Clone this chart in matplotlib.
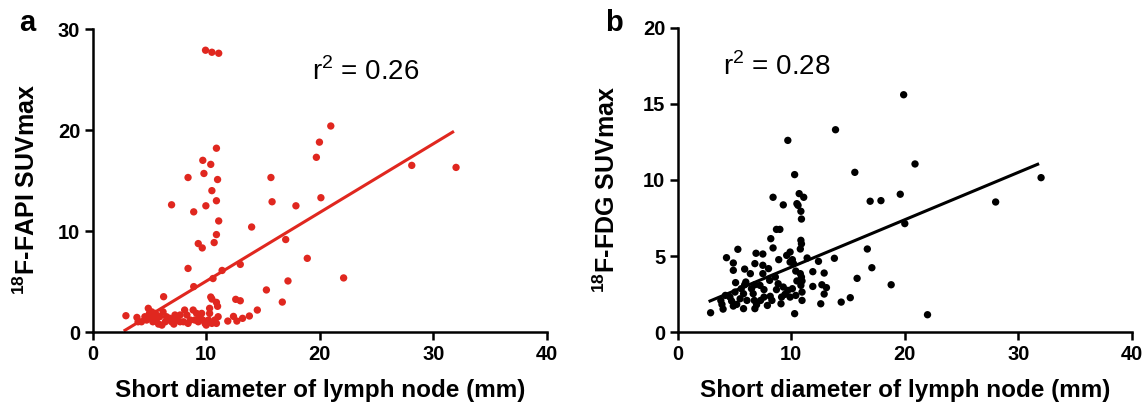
import matplotlib
matplotlib.use("Agg")
import matplotlib.pyplot as plt

plt.rcParams['font.family'] = ['Liberation Sans', 'DejaVu Sans']
plt.rcParams['mathtext.fontset'] = 'custom'
plt.rcParams['mathtext.rm'] = 'Liberation Sans'
plt.rcParams['mathtext.bf'] = 'Liberation Sans:bold'

# panel a: 18F-FAPI SUVmax vs short diameter
fapi_x = [9.94, 10.5, 11.1, 20.97, 19.97, 19.7, 10.9, 9.7, 10.4, 8.4, 9.8, 11.0, 15.7, 10.5,
          28.1, 32.0, 6.95, 9.97, 10.9, 8.9, 15.8, 17.9, 20.1, 11.1, 14.0, 10.9, 9.3, 9.65,
          10.7, 17.0, 18.9, 8.4, 13.0, 11.4, 22.1, 8.9, 10.6, 17.2, 15.3, 6.25, 10.4, 10.5,
          10.9, 11.0, 12.6, 13.0, 16.7, 10.3, 14.5, 13.8, 13.2, 12.4, 12.7, 11.9, 2.93,
          3.9, 4.0, 4.6, 4.9, 5.0, 5.2, 5.3, 5.6, 5.8, 5.9, 6.1, 6.4, 6.8, 6.95, 7.15, 7.4,
          7.7, 8.0, 8.1, 8.3, 8.6, 8.85, 9.15, 9.3, 9.45, 9.7, 9.9, 10.2, 10.3, 10.75, 11.05,
          10.9, 7.25, 6.5, 5.5, 4.75, 4.3, 7.7, 8.4, 9.0, 9.6, 10.0, 10.5, 6.2, 5.6, 5.2, 7.1]
fapi_y = [27.9, 27.7, 27.6, 20.4, 18.8, 17.3, 18.2, 17.0, 16.6, 15.3, 15.7, 15.1, 15.3, 14.0,
          16.5, 16.3, 12.6, 12.5, 13.0, 11.9, 12.9, 12.5, 13.3, 11.0, 10.4, 9.65, 8.76, 8.33,
          8.86, 9.16, 7.3, 6.3, 6.7, 6.1, 5.36, 4.5, 5.3, 5.06, 4.17, 3.5, 3.47, 3.27,
          2.94, 2.55, 3.24, 3.1, 2.97, 2.35, 2.18, 1.59, 1.36, 1.55, 1.09, 1.09, 1.62,
          1.45, 1.02, 1.52, 2.35, 1.85, 1.52, 1.02, 1.19, 0.79, 1.52, 0.69, 1.02, 1.36, 1.02, 0.79, 1.26,
          1.02, 1.02, 2.18, 1.69, 1.19, 2.18, 1.85, 1.02, 1.52, 1.19, 0.86, 1.19, 1.85, 1.19, 1.52,
          0.86, 1.69, 1.52, 1.85, 1.19, 1.02, 1.69, 0.86, 1.19, 1.85, 0.69, 0.86, 2.0, 1.69, 2.0, 1.19]

# panel b: 18F-FDG SUVmax vs short diameter
fdg_x = [19.9, 13.9, 9.7, 20.9, 15.6, 10.3, 32.0, 8.4, 10.7, 11.1, 9.3, 10.5, 10.6, 10.85, 10.9,
         16.95, 17.9, 19.6, 28.0, 20.0, 8.7, 9.0, 8.2, 10.85, 10.9, 10.8, 8.4, 5.3, 6.9, 7.5,
         9.9, 9.6, 10.1, 4.3, 4.9, 4.9, 6.8, 7.5, 8.9, 11.4, 12.4, 13.8, 16.7, 17.1, 5.9, 8.0,
         11.9, 12.9, 15.8, 18.8, 14.4, 15.2, 12.6, 22.0, 10.3, 2.9,
         3.8, 3.9, 4.0, 4.6, 4.75, 4.9, 5.2, 5.5, 5.8, 5.8, 6.1, 6.65, 6.75, 6.8, 6.95, 7.3,
         7.6, 7.9, 8.15, 8.3, 8.7, 9.1, 9.15, 9.45, 9.7, 10.1, 10.4, 10.95, 10.95, 9.9,
         5.1, 6.0, 5.9, 6.8, 7.25, 10.4, 10.8, 10.9, 10.95, 10.85, 10.5, 11.9, 12.7, 13.1, 12.9,
         9.9, 10.2, 8.6, 8.85, 9.3, 8.1, 7.5, 6.4, 5.05, 4.2, 5.6, 6.5, 7.6]
fdg_y = [15.6, 13.3, 12.6, 11.05, 10.5, 10.35, 10.15, 8.86, 9.1, 8.86, 8.36, 8.44, 8.33, 7.94, 7.43,
         8.6, 8.64, 9.06, 8.55, 7.13, 6.75, 6.75, 6.14, 6.03, 5.8, 5.46, 5.53, 5.44, 5.18, 5.13,
         5.26, 5.04, 4.76, 4.89, 4.54, 4.06, 4.5, 4.39, 4.76, 4.87, 4.65, 4.85, 5.46, 4.23, 4.14, 4.17,
         3.97, 3.88, 3.53, 3.11, 1.97, 2.26, 1.86, 1.14, 1.21, 1.27,
         2.08, 1.82, 1.51, 2.30, 2.04, 1.71, 1.82, 2.19, 2.52, 1.54, 2.08, 2.52, 2.08, 1.54, 1.80, 2.08,
         2.30, 1.75, 2.35, 2.08, 2.79, 1.86, 2.30, 2.48, 2.74, 2.85, 2.41, 2.63, 2.08, 2.30,
         3.25, 3.29, 3.11, 3.11, 3.07, 4.01, 3.84, 3.62, 3.36, 3.07, 3.36, 3.0, 3.11, 2.92, 2.5,
         4.6, 4.5, 3.62, 3.18, 2.96, 3.4, 3.84, 3.84, 2.63, 2.41, 2.85, 2.85, 2.79]

# linear fits (slope, intercept)
fit_a = (0.680, -1.76)
fit_b = (0.3115, 1.155)
fit_range = [2.85, 31.7]

red = '#e0271f'

fig = plt.figure(figsize=(11.48, 4.03), dpi=100)
ax1 = fig.add_axes([0.0807, 0.176, 0.3957, 0.752])
ax2 = fig.add_axes([0.5903, 0.176, 0.3957, 0.755])


def style(ax, ylim, yticks, ylabel, ylab_x):
    for s in ['top', 'right']:
        ax.spines[s].set_visible(False)
    for s in ['left', 'bottom']:
        ax.spines[s].set_linewidth(1.8)
    ax.set_xlim(0, 40)
    ax.set_ylim(*ylim)
    ax.set_xticks([0, 10, 20, 30, 40])
    ax.set_yticks(yticks)
    ax.tick_params(direction='out', length=6, width=1.8, labelsize=14.5, pad=3)
    for lab in ax.get_xticklabels() + ax.get_yticklabels():
        lab.set_fontweight('bold')
    ax.set_xlabel('Short diameter of lymph node (mm)', fontsize=17.5, fontweight='bold')
    ax.set_ylabel(ylabel, fontsize=18, fontweight='bold')
    ax.xaxis.set_label_coords(0.5, -0.155)
    ax.yaxis.set_label_coords(ylab_x, 0.47)


ax1.scatter(fapi_x, fapi_y, s=28, color=red, edgecolors='none', clip_on=False, zorder=3)
ax1.plot(fit_range, [fit_a[0] * v + fit_a[1] for v in fit_range], color=red, lw=2.2)
style(ax1, (0, 30), [0, 10, 20, 30], r'$\mathbf{^{18}}$F-FAPI SUVmax', -0.115)
ax1.text(19.3, 25, r'r$^2$ = 0.26', fontsize=20)

ax2.scatter(fdg_x, fdg_y, s=28, color='black', edgecolors='none', clip_on=False, zorder=3)
ax2.plot(fit_range, [fit_b[0] * v + fit_b[1] for v in fit_range], color='black', lw=2.2)
style(ax2, (0, 20), [0, 5, 10, 15, 20], r'$\mathbf{^{18}}$F-FDG SUVmax', -0.128)
ax2.text(4.0, 16.9, r'r$^2$ = 0.28', fontsize=20)

fig.text(0.017, 0.923, 'a', fontsize=21, fontweight='bold')
fig.text(0.527, 0.923, 'b', fontsize=21, fontweight='bold')

fig.savefig('out.png', dpi=100)
